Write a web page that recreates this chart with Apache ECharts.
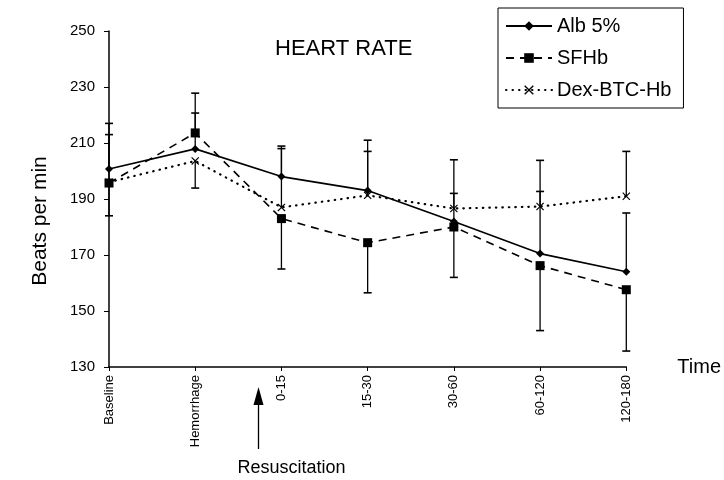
<!DOCTYPE html>
<html>
<head>
<meta charset="utf-8">
<script src="https://cdn.jsdelivr.net/npm/echarts@6/dist/echarts.min.js"></script>
<style>
html,body{margin:0;padding:0;background:#fff;}
#chart{width:724px;height:480px;}
</style>
</head>
<body>
<div id="chart"></div>
<script>
const categories = ['Baseline', 'Hemorrhage', '0-15', '15-30', '30-60', '60-120', '120-180'];
const albValues = [200.7, 207.9, 198, 193, 182, 170.5, 164];
const sfhbValues = [195.7, 213.6, 183, 174.4, 180, 166.2, 157.6];
const dexValues = [196, 203.6, 187, 191.3, 186.6, 187.3, 191];
// end points of the error bars drawn from each series' mean
const albErrEnd = [213, 220.7, 208.9, 207, 192, 192.7, 185];
const sfhbErrEnd = [184, 227.8, 165, 156.5, 162, 143, 135.7];
const dexErrEnd = [217, 193.9, 208, 211, 204, 203.8, 207];
const yMin = 130, yMax = 250, yStep = 20;

const FONT = '"Liberation Sans", Arial, sans-serif';
const chart = echarts.init(document.getElementById('chart'), null, {renderer: 'canvas'});

function errData(vals, ends) {
  return vals.map((v, i) => [i, v, ends[i]]);
}
const errorItems = []
  .concat(errData(albValues, albErrEnd))
  .concat(errData(sfhbValues, sfhbErrEnd))
  .concat(errData(dexValues, dexErrEnd));

const xSymbol = 'path://M0,1L1,0L5,4L9,0L10,1L6,5L10,9L9,10L5,6L1,10L0,9L4,5Z';

chart.setOption({
  animation: false,
  backgroundColor: '#fff',
  title: {
    text: 'HEART RATE',
    left: 270, top: 33,
    textStyle: {fontFamily: FONT, fontSize: 22, fontWeight: 'normal', color: '#000'}
  },
  legend: {
    data: ['Alb 5%', 'SFHb', 'Dex-BTC-Hb'],
    orient: 'vertical',
    left: 498, top: 8,
    borderColor: '#000', borderWidth: 1,
    padding: [8, 12, 8, 7],
    itemGap: 12,
    itemWidth: 46, itemHeight: 12,
    textStyle: {fontFamily: FONT, fontSize: 20, color: '#000'}
  },
  grid: {left: 109, right: 97, top: 31, bottom: 113},
  xAxis: {
    type: 'category',
    data: categories,
    boundaryGap: false,
    name: 'Time',
    nameLocation: 'end',
    nameGap: 51,
    nameTextStyle: {fontFamily: FONT, fontSize: 20, color: '#000'},
    axisLine: {lineStyle: {color: '#000', width: 1.5}},
    axisTick: {alignWithLabel: true, length: 4, lineStyle: {color: '#000'}},
    axisLabel: {rotate: 90, fontFamily: FONT, fontSize: 13, color: '#000', margin: 8},
    splitLine: {show: false}
  },
  yAxis: {
    type: 'value',
    min: yMin, max: yMax, interval: yStep,
    name: 'Beats per min',
    nameLocation: 'middle',
    nameGap: 58,
    nameTextStyle: {fontFamily: FONT, fontSize: 21, color: '#000', padding: [0, 44, 0, 0]},
    axisLine: {show: true, lineStyle: {color: '#000', width: 1.5}},
    axisTick: {show: true, length: 5, lineStyle: {color: '#000'}},
    axisLabel: {fontFamily: FONT, fontSize: 15, color: '#000', margin: 14},
    splitLine: {show: false}
  },
  series: [
    {
      name: 'Alb 5%', type: 'line', data: albValues,
      symbol: 'diamond', symbolSize: 8,
      lineStyle: {color: '#000', width: 1.6},
      itemStyle: {color: '#000'}, z: 3
    },
    {
      name: 'SFHb', type: 'line', data: sfhbValues,
      symbol: 'rect', symbolSize: 9,
      lineStyle: {color: '#000', width: 1.6, type: [8, 6]},
      itemStyle: {color: '#000'}, z: 3
    },
    {
      name: 'Dex-BTC-Hb', type: 'line', data: dexValues,
      symbol: xSymbol, symbolSize: 8,
      lineStyle: {color: '#000', width: 2.2, type: [0.5, 6], cap: 'round'},
      itemStyle: {color: '#000'}, z: 3
    },
    {
      name: 'err', type: 'custom', data: errorItems, z: 2,
      renderItem: function (params, api) {
        const p1 = api.coord([api.value(0), api.value(1)]);
        const p2 = api.coord([api.value(0), api.value(2)]);
        const hw = 4;
        return {
          type: 'group',
          children: [
            {type: 'line', shape: {x1: p1[0], y1: p1[1], x2: p2[0], y2: p2[1]}, style: {stroke: '#000', lineWidth: 1.3}},
            {type: 'line', shape: {x1: p2[0] - hw, y1: p2[1], x2: p2[0] + hw, y2: p2[1]}, style: {stroke: '#000', lineWidth: 1.6}}
          ]
        };
      }
    }
  ]
});

// Resuscitation annotation, placed relative to the axis
const xH = chart.convertToPixel({xAxisIndex: 0}, 1);
const x0 = chart.convertToPixel({xAxisIndex: 0}, 2);
const yBase = chart.convertToPixel({yAxisIndex: 0}, yMin);
const ax = Math.round(xH + 0.73 * (x0 - xH)) + 0.5;
chart.setOption({
  graphic: [
    {type: 'polygon', shape: {points: [[ax, yBase + 20], [ax - 5, yBase + 38], [ax + 5, yBase + 38]]}, style: {fill: '#000'}},
    {type: 'line', shape: {x1: ax, y1: yBase + 36, x2: ax, y2: yBase + 82}, style: {stroke: '#000', lineWidth: 1.3}},
    {type: 'text', x: ax - 21, y: yBase + 101, style: {text: 'Resuscitation', font: '18px ' + FONT, fill: '#000', textVerticalAlign: 'middle'}}
  ]
});
</script>
</body>
</html>
